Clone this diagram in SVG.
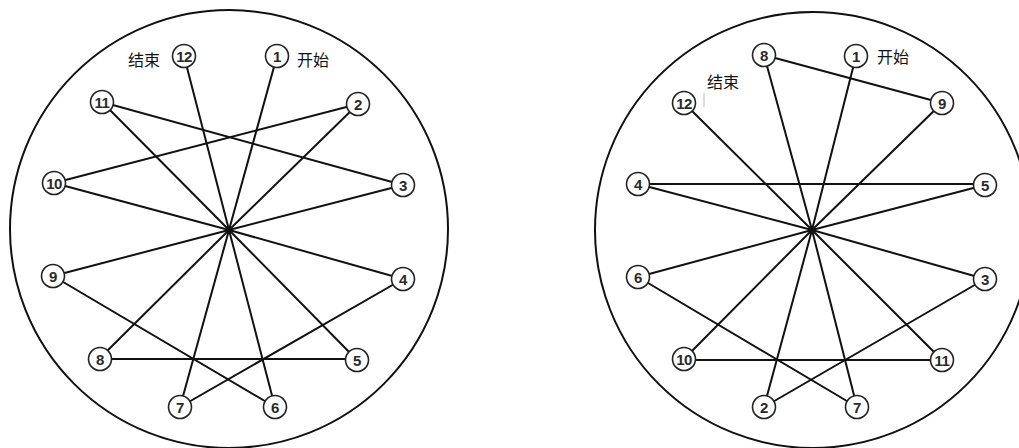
<svg xmlns="http://www.w3.org/2000/svg" width="1019" height="448" viewBox="0 0 1019 448">
<style>
.outer{fill:none;stroke:#111;stroke-width:2}
.ln{stroke:#111;stroke-width:2;stroke-linecap:round}
.nd circle{fill:#fff;stroke:#222;stroke-width:1.6}
.nd text{font-family:"Liberation Sans",Arial,sans-serif;font-size:15px;font-weight:bold;fill:#2a2a2a;text-anchor:middle;dominant-baseline:central;letter-spacing:-0.5px}
.lbl{font-family:"Liberation Sans","Noto Sans CJK SC",sans-serif;font-size:16px;fill:#111}
</style>
<rect width="1019" height="448" fill="#fff"/>
<circle class="outer" cx="229" cy="229" r="219"/>
<circle class="outer" cx="813" cy="230" r="218"/>
<g id="connectors">
<line class="ln" x1="229" y1="230" x2="184" y2="56"/>
<line class="ln" x1="229" y1="230" x2="277" y2="56"/>
<line class="ln" x1="229" y1="230" x2="102" y2="102"/>
<line class="ln" x1="229" y1="230" x2="358" y2="104"/>
<line class="ln" x1="229" y1="230" x2="54" y2="183"/>
<line class="ln" x1="229" y1="230" x2="403" y2="185"/>
<line class="ln" x1="229" y1="230" x2="53" y2="276"/>
<line class="ln" x1="229" y1="230" x2="403" y2="279"/>
<line class="ln" x1="229" y1="230" x2="100" y2="358"/>
<line class="ln" x1="229" y1="230" x2="357" y2="360"/>
<line class="ln" x1="229" y1="230" x2="180" y2="407"/>
<line class="ln" x1="229" y1="230" x2="275" y2="407"/>
<line class="ln" x1="358" y1="104" x2="54" y2="183"/>
<line class="ln" x1="102" y1="102" x2="403" y2="185"/>
<line class="ln" x1="53" y1="276" x2="275" y2="407"/>
<line class="ln" x1="100" y1="359" x2="357" y2="359"/>
<line class="ln" x1="403" y1="279" x2="180" y2="407"/>
<line class="ln" x1="812" y1="230" x2="764" y2="55"/>
<line class="ln" x1="812" y1="230" x2="856" y2="56"/>
<line class="ln" x1="812" y1="230" x2="684" y2="103"/>
<line class="ln" x1="812" y1="230" x2="942" y2="103"/>
<line class="ln" x1="812" y1="230" x2="638" y2="184"/>
<line class="ln" x1="812" y1="230" x2="985" y2="185"/>
<line class="ln" x1="812" y1="230" x2="638" y2="277"/>
<line class="ln" x1="812" y1="230" x2="985" y2="279"/>
<line class="ln" x1="812" y1="230" x2="684" y2="359"/>
<line class="ln" x1="812" y1="230" x2="942" y2="360"/>
<line class="ln" x1="812" y1="230" x2="764" y2="407"/>
<line class="ln" x1="812" y1="230" x2="857" y2="407"/>
<line class="ln" x1="764" y1="55" x2="942" y2="103"/>
<line class="ln" x1="638" y1="184" x2="985" y2="184"/>
<line class="ln" x1="638" y1="277" x2="857" y2="407"/>
<line class="ln" x1="985" y1="279" x2="764" y2="407"/>
<line class="ln" x1="684" y1="360" x2="942" y2="360"/>
</g>
<g id="L12" class="nd"><circle cx="184" cy="56" r="11.5"/><text x="184" y="56">12</text></g>
<g id="L1" class="nd"><circle cx="277" cy="56" r="11.5"/><text x="277" y="56">1</text></g>
<g id="L11" class="nd"><circle cx="102" cy="102" r="11.5"/><text x="102" y="102">11</text></g>
<g id="L2" class="nd"><circle cx="358" cy="104" r="11.5"/><text x="358" y="104">2</text></g>
<g id="L10" class="nd"><circle cx="54" cy="183" r="11.5"/><text x="54" y="183">10</text></g>
<g id="L3" class="nd"><circle cx="403" cy="185" r="11.5"/><text x="403" y="185">3</text></g>
<g id="L9" class="nd"><circle cx="53" cy="276" r="11.5"/><text x="53" y="276">9</text></g>
<g id="L4" class="nd"><circle cx="403" cy="279" r="11.5"/><text x="403" y="279">4</text></g>
<g id="L8" class="nd"><circle cx="100" cy="359" r="11.5"/><text x="100" y="359">8</text></g>
<g id="L5" class="nd"><circle cx="357" cy="360" r="11.5"/><text x="357" y="360">5</text></g>
<g id="L7" class="nd"><circle cx="180" cy="407" r="11.5"/><text x="180" y="407">7</text></g>
<g id="L6" class="nd"><circle cx="275" cy="407" r="11.5"/><text x="275" y="407">6</text></g>
<g id="R8" class="nd"><circle cx="764" cy="55" r="11.5"/><text x="764" y="55">8</text></g>
<g id="R1" class="nd"><circle cx="856" cy="56" r="11.5"/><text x="856" y="56">1</text></g>
<g id="R12" class="nd"><circle cx="684" cy="103" r="11.5"/><text x="684" y="103">12</text></g>
<g id="R9" class="nd"><circle cx="942" cy="103" r="11.5"/><text x="942" y="103">9</text></g>
<g id="R4" class="nd"><circle cx="638" cy="184" r="11.5"/><text x="638" y="184">4</text></g>
<g id="R5" class="nd"><circle cx="985" cy="185" r="11.5"/><text x="985" y="185">5</text></g>
<g id="R6" class="nd"><circle cx="638" cy="277" r="11.5"/><text x="638" y="277">6</text></g>
<g id="R3" class="nd"><circle cx="985" cy="279" r="11.5"/><text x="985" y="279">3</text></g>
<g id="R10" class="nd"><circle cx="684" cy="359" r="11.5"/><text x="684" y="359">10</text></g>
<g id="R11" class="nd"><circle cx="942" cy="360" r="11.5"/><text x="942" y="360">11</text></g>
<g id="R2" class="nd"><circle cx="764" cy="407" r="11.5"/><text x="764" y="407">2</text></g>
<g id="R7" class="nd"><circle cx="857" cy="407" r="11.5"/><text x="857" y="407">7</text></g>
<g id="labels">
<text class="lbl" x="128" y="66">结束</text>
<text class="lbl" x="297" y="66">开始</text>
<text class="lbl" x="877" y="63">开始</text>
<text class="lbl" x="707" y="88">结束</text>
<line x1="704" y1="93" x2="704" y2="107" stroke="#bbb" stroke-width="1"/>
</g>
</svg>
